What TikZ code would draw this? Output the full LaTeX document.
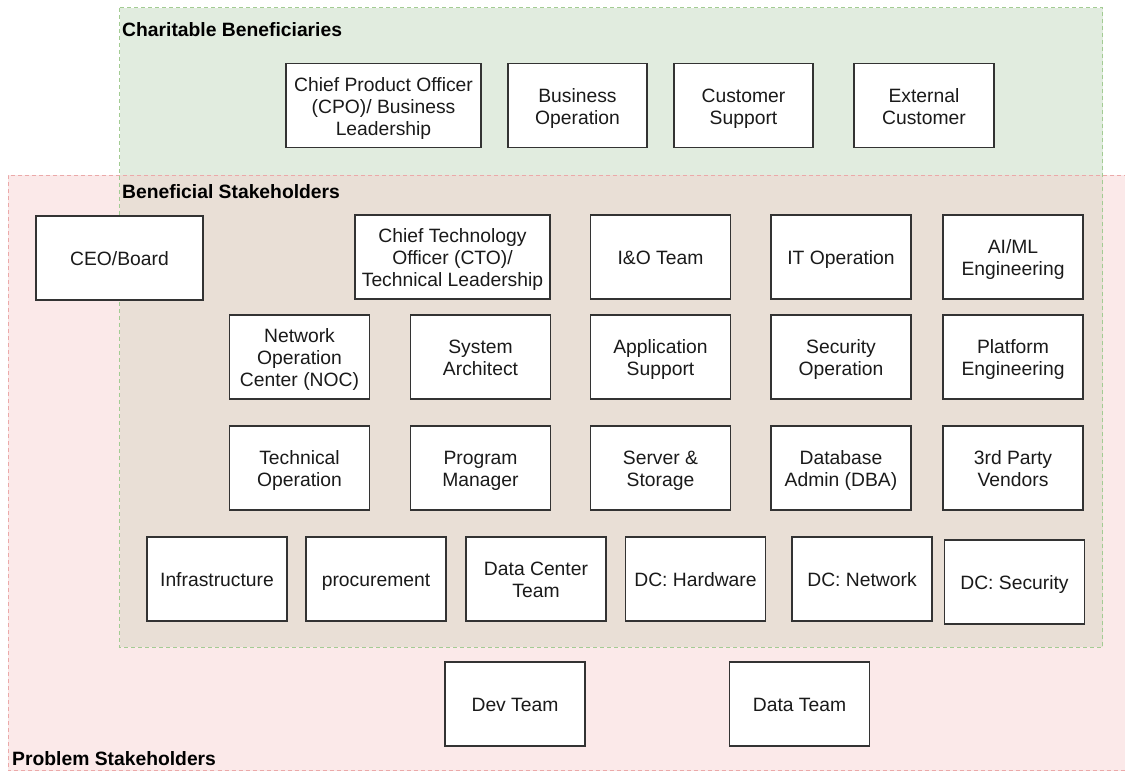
\documentclass[tikz,border=0pt]{standalone}
\usepackage{fontspec}
\setmainfont{Liberation Sans}
\definecolor{greenfill}{HTML}{E1ECDF}
\definecolor{pinkfill}{HTML}{FBE9E9}
\definecolor{mixfill}{HTML}{E9DFD6}
\definecolor{greenline}{HTML}{A3CC93}
\definecolor{pinkline}{HTML}{EBA9A9}
\definecolor{boxline}{HTML}{333333}
\definecolor{txt}{HTML}{1A1A1A}
% centred label block, nudged a little below the box centre
\newcommand\rolebox[1]{\raisebox{0pt}[\dimexpr\height+6.6pt\relax][\depth]{%
  \begin{tabular}{@{}c@{}}#1\end{tabular}}}
\begin{document}
\begin{tikzpicture}[x=1pt,y=-1pt,
  role/.style={draw=boxline,line width=1.3pt,fill=white,text=txt,
    minimum width=140pt,minimum height=84pt,inner sep=0pt,
    font=\fontsize{19.3}{22}\selectfont},
  widerole/.style={role,minimum width=195pt},
  zonelabel/.style={anchor=west,inner sep=0pt,text=black,
    font=\fontsize{19.3}{22}\selectfont\bfseries},
  zoneborder/.style={line width=0.8pt,dash pattern=on 4pt off 3pt}]
\useasboundingbox (0,0) rectangle (1125,772);

% stakeholder zones
\fill[pinkfill] (8,175) rectangle (1135,770.5);
\fill[greenfill] (119.5,7.5) rectangle (1102.5,175);
\fill[mixfill] (119.5,175) rectangle (1102.5,647);
\draw[zoneborder,pinkline] (1135,175) -- (8,175) -- (8,770.5) -- (1135,770.5);
\draw[zoneborder,greenline] (119.5,7.5) rectangle (1102.5,647);

\node[zonelabel] (charitable) at (122,29.5) {Charitable Beneficiaries};
\node[zonelabel] (beneficial) at (122,192) {Beneficial Stakeholders};
\node[zonelabel] (problem) at (12,758.5) {Problem Stakeholders};

% charitable beneficiaries
\node[widerole] (cpo) at (383.5,105.5) {\rolebox{Chief Product Officer\\(CPO)/ Business\\Leadership}};
\node[role,minimum width=139pt] (bizop) at (577.5,105.5) {\rolebox{Business\\Operation}};
\node[role,minimum width=139pt] (custsup) at (743.5,105.5) {\rolebox{Customer\\Support}};
\node[role] (extcust) at (924,105.5) {\rolebox{External\\Customer}};

% beneficial stakeholders
\node[role,minimum width=167pt] (ceo) at (119.5,258) {\rolebox{CEO/Board}};
\node[widerole] (cto) at (452.5,257) {\rolebox{Chief Technology\\Officer (CTO)/\\Technical Leadership}};
\node[role] (io) at (660.5,257) {\rolebox{I\&O Team}};
\node[role] (itop) at (841,257) {\rolebox{IT Operation}};
\node[role] (aiml) at (1013,257) {\rolebox{AI/ML\\Engineering}};

\node[role] (noc) at (299.5,357) {\rolebox{Network\\Operation\\Center (NOC)}};
\node[role] (sysarch) at (480.5,357) {\rolebox{System\\Architect}};
\node[role] (appsup) at (660.5,357) {\rolebox{Application\\Support}};
\node[role] (secop) at (841,357) {\rolebox{Security\\Operation}};
\node[role] (platform) at (1013,357) {\rolebox{Platform\\Engineering}};

\node[role] (techop) at (299.5,468) {\rolebox{Technical\\Operation}};
\node[role] (progmgr) at (480.5,468) {\rolebox{Program\\Manager}};
\node[role] (server) at (660.5,468) {\rolebox{Server \&\\Storage}};
\node[role] (dba) at (841,468) {\rolebox{Database\\Admin (DBA)}};
\node[role] (vendors) at (1013,468) {\rolebox{3rd Party\\Vendors}};

\node[role] (infra) at (217,579) {\rolebox{Infrastructure}};
\node[role] (procure) at (376,579) {\rolebox{procurement}};
\node[role] (dcteam) at (536,579) {\rolebox{Data Center\\Team}};
\node[role] (dchw) at (695.5,579) {\rolebox{DC: Hardware}};
\node[role] (dcnet) at (862,579) {\rolebox{DC: Network}};
\node[role] (dcsec) at (1014.5,582) {\rolebox{DC: Security}};

% problem stakeholders
\node[role] (dev) at (515,704) {\rolebox{Dev Team}};
\node[role] (data) at (799.5,704) {\rolebox{Data Team}};
\end{tikzpicture}
\end{document}
